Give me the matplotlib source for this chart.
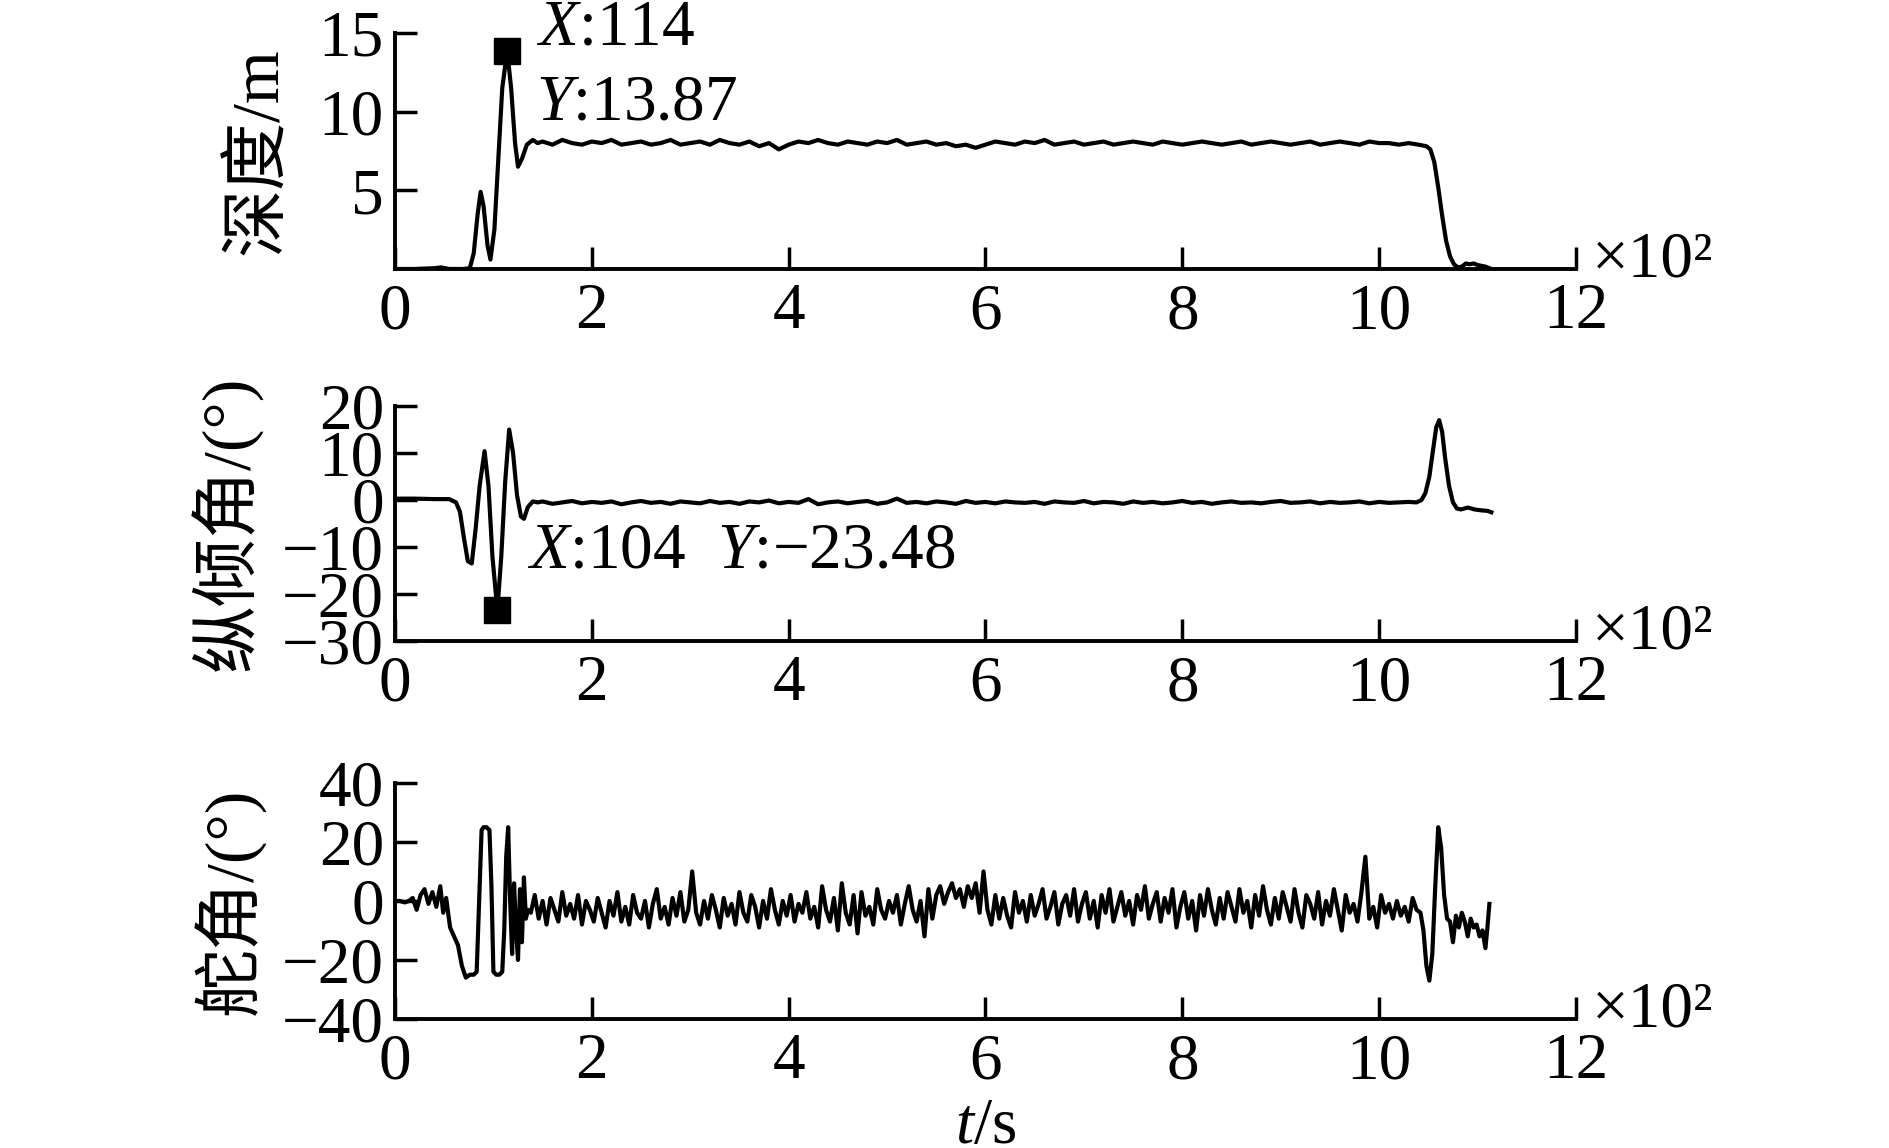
import numpy as np
import matplotlib
matplotlib.use("Agg")
import matplotlib.pyplot as plt

plt.rcParams['font.family'] = ['Liberation Serif', 'Noto Sans CJK SC']
plt.rcParams['mathtext.fontset'] = 'custom'
plt.rcParams['mathtext.rm'] = 'Liberation Serif'
plt.rcParams['mathtext.it'] = 'Liberation Serif:italic'

# x axis (seconds, shown as x10^2)
xticks = [0, 200, 400, 600, 800, 1000, 1200]
xtick_labels = ['0', '2', '4', '6', '8', '10', '12']

# depth (m)
depth_t_head = [0, 20, 40, 47, 55, 70, 76, 80, 84, 87, 90, 94, 97, 101, 105, 109, 114,
                118, 122, 125, 129, 134, 140, 145]
depth_v_head = [0, 0, 0.05, 0.1, 0, 0, 0.05, 1.0, 3.5, 4.9, 4.0, 1.5, 0.6, 2.5, 7.0, 11.5,
                13.87, 11.5, 8.0, 6.5, 7.0, 7.9, 8.2, 8.0]
depth_t_mid = np.arange(150, 1041, 10)
depth_v_mid = [8.1, 7.9, 8.2, 8.0, 7.9, 8.1, 8.0, 8.2, 7.9, 8.0,
               8.1, 7.9, 8.0, 8.2, 7.9, 8.0, 8.1, 7.9, 8.2, 8.0,
               7.9, 8.1, 7.8, 8.0, 7.6, 7.9, 8.1, 8.0, 8.2, 8.0,
               7.9, 8.1, 8.0, 7.9, 8.1, 8.0, 8.2, 7.9, 8.0, 8.1,
               7.9, 8.0, 7.8, 7.9, 7.7, 7.9, 8.1, 8.0, 7.9, 8.1,
               8.0, 8.2, 7.9, 8.0, 8.1, 7.9, 8.0, 8.1, 7.9, 8.0,
               8.1, 8.0, 7.9, 8.1, 8.0, 7.9, 8.0, 8.1, 8.0, 7.9,
               8.0, 8.1, 7.9, 8.0, 8.1, 8.0, 7.9, 8.0, 8.1, 7.9,
               8.0, 8.1, 8.0, 7.9, 8.1, 8.0, 8.0, 7.9, 8.0, 7.9]
depth_t_tail = [1048, 1052, 1056, 1060, 1064, 1068, 1072, 1076, 1080, 1084, 1088, 1092,
                1096, 1100, 1104, 1108, 1112]
depth_v_tail = [7.8, 7.6, 6.8, 5.2, 3.4, 1.8, 0.8, 0.3, 0.1, 0.15, 0.35, 0.3, 0.35, 0.25,
                0.2, 0.15, 0.05]

# pitch angle (deg)
pitch_t_head = [0, 20, 40, 55, 62, 66, 70, 74, 78, 82, 86, 91, 95, 99, 104, 108, 112, 116,
                120, 124, 128, 131, 135, 140, 145]
pitch_v_head = [0.3, 0.3, 0.2, 0.2, -0.5, -2.5, -8, -13, -13.5, -6, 3, 10.4, 3, -12, -23.48,
                -12, 4, 15, 10, 1, -3.5, -4, -1.5, -0.3, -0.5]
pitch_t_mid = np.arange(150, 1031, 10)
pitch_v_mid = [-0.3, -0.8, -0.5, -0.2, -0.7, -0.4, -0.6, -0.3, -0.9, -0.5,
               -0.2, -0.6, -0.4, -0.8, -0.3, -0.5, -0.7, -0.2, -0.6, -0.4,
               -0.8, -0.3, -0.5, -0.1, -0.7, -0.4, -0.6, 0.2, -0.9, -0.5,
               -0.3, -0.7, -0.4, -0.2, -0.8, -0.5, 0.3, -0.6, -0.4, -0.7,
               -0.3, -0.5, -0.8, -0.2, -0.6, -0.4, -0.7, -0.3, -0.5, -0.6,
               -0.4, -0.8, -0.3, -0.5, -0.6, -0.2, -0.7, -0.4, -0.5, -0.8,
               -0.3, -0.6, -0.4, -0.7, -0.5, -0.2, -0.6, -0.4, -0.8, -0.5,
               -0.3, -0.6, -0.5, -0.7, -0.4, -0.2, -0.6, -0.5, -0.3, -0.7,
               -0.4, -0.6, -0.5, -0.3, -0.7, -0.4, -0.6, -0.5, -0.4]
pitch_t_tail = [1038, 1043, 1047, 1051, 1055, 1058, 1061, 1064, 1067, 1071, 1075, 1079,
                1083, 1090, 1097, 1104, 1110, 1114]
pitch_v_tail = [-0.5, 0, 1.5, 5, 11, 15.5, 17, 14.5, 9, 3, -0.5, -1.8, -2, -1.6, -2, -2.2,
                -2.3, -2.6]

# rudder angle (deg)
rudder_t_head = [0, 5, 10, 14, 18, 22, 26, 30, 34, 38, 42, 46, 49, 52, 56, 60, 64, 68, 72,
                 76, 80, 83, 86, 88, 90, 93, 96, 98, 100, 103, 106, 109, 111, 113, 115, 117,
                 119, 121, 123, 125, 127, 129, 131, 133, 135]
rudder_v_head = [0, 0, -0.5, 0, 1, -3, 2, 4, -1, 3, -2, 5, -4, 1, -9, -12, -15, -22, -26,
                 -25, -25, -24, 5, 24, 25, 25, 24, 5, -24, -25, -25, -24, -10, 15, 25, 0,
                 -18, 6, -10, -20, 4, -14, 8, -6, -3]
rudder_t_mid = np.arange(138, 1039, 4)
rudder_v_mid = [-4, 2, -6, 0, -8, 1, -3, -7, 3, -5,
                -1, -6, 2, -8, 0, -3, -7, 1, -4, -9,
                0, -5, 3, -7, -2, -8, 2, -4, -6, 0,
                -9, -1, 4, -6, -2, -8, 1, -5, 3, -7,
                -3, 10, -4, -8, 0, -6, 2, -3, -9, 1,
                -5, -1, -8, 3, -4, -7, 2, -2, -9, 0,
                -6, 4, -3, -8, 0, -5, 2, -7, -1, -4,
                3, -6, -2, -9, 5, -3, -7, 1, -10, 6,
                -4, -8, 2, -11, 3, -5, -2, -8, 4, -3,
                -6, 0, -4, 2, -8, -1, 5, -3, -7, 0,
                -12, 4, -6, 2, 5, -1, 3, 6, 1, 4,
                -2, 5, 1, 6, -4, 10, -3, -8, 2, -6,
                1, -5, -9, 3, -4, 0, -7, 2, -5, -1,
                4, -6, -2, 3, -8, -1, 2, -5, 4, -7,
                -1, 3, -6, 0, -9, 2, -4, 4, -7, -2,
                3, -5, 0, -8, 2, -3, 5, -6, -1, 3,
                -7, 1, -4, 4, -9, -2, 3, -6, 0, -10,
                2, -5, 4, -3, -8, 1, -6, 3, -2, -7,
                4, -4, 0, -9, 2, -5, 5, -3, -8, 1,
                -6, 3, -2, -7, 4, -4, -9, 2, -1, -6,
                3, -8, 0, -5, 4, -3, -10, 2, -4, -1,
                -7, 3, 15, -6, -2, -9, 2, -4, -1, -6,
                0, -5, -2, -7, 1, -3]
rudder_t_tail = [1042, 1045, 1048, 1051, 1054, 1057, 1060, 1063, 1066, 1069, 1072, 1075,
                 1078, 1081, 1084, 1087, 1090, 1093, 1096, 1099, 1102, 1105, 1108, 1110, 1112]
rudder_v_tail = [-4, -10, -22, -27, -18, 5, 25, 18, 2, -6, -7, -14, -5, -9, -4, -7, -12,
                 -6, -9, -8, -12, -10, -16, -9, -1]

depth_t = np.concatenate([depth_t_head, depth_t_mid, depth_t_tail])
depth_v = np.concatenate([depth_v_head, depth_v_mid, depth_v_tail])
pitch_t = np.concatenate([pitch_t_head, pitch_t_mid, pitch_t_tail])
pitch_v = np.concatenate([pitch_v_head, pitch_v_mid, pitch_v_tail])
rudder_t = np.concatenate([rudder_t_head, rudder_t_mid, rudder_t_tail])
rudder_v = np.concatenate([rudder_v_head, rudder_v_mid, rudder_v_tail])

FS = 47
LW = 3.0

fig = plt.figure(figsize=(18.89, 11.48), dpi=100)
ax1 = fig.add_axes([0.2091, 0.7657, 0.6252, 0.2056])
ax2 = fig.add_axes([0.2091, 0.4416, 0.6252, 0.2047])
ax3 = fig.add_axes([0.2091, 0.1124, 0.6252, 0.2056])


def style(ax, ylim, yticks, ylabel, lab_x):
    ax.set_xlim(0, 1200)
    ax.set_ylim(*ylim)
    ax.set_xticks(xticks)
    ax.set_xticklabels(xtick_labels)
    ax.set_yticks(yticks)
    ax.spines['top'].set_visible(False)
    ax.spines['right'].set_visible(False)
    for s in ['left', 'bottom']:
        ax.spines[s].set_linewidth(2.8)
    ax.tick_params(direction='in', length=16, width=2.5, labelsize=FS)
    ax.tick_params(axis='x', pad=10)
    ax.tick_params(axis='y', pad=8)
    ax.text(1.013, -0.03, '×10²', transform=ax.transAxes, fontsize=FS,
            ha='left', va='baseline')
    ax.set_ylabel(ylabel, fontsize=49)
    ax.yaxis.set_label_coords(lab_x, 0.5)


ax1.plot(depth_t, depth_v, color='black', lw=LW)
ax1.plot([114], [13.87], 's', color='black', markersize=19)
ax1.text(143, 14.24, r'$X$:114', fontsize=FS, va='baseline', clip_on=False)
ax1.text(143, 9.47, r'$Y$:13.87', fontsize=FS, va='baseline')
style(ax1, (0, 15), [5, 10, 15], '深度/m', -0.088)

ax2.plot(pitch_t, pitch_v, color='black', lw=LW)
ax2.plot([104], [-23.48], 's', color='black', markersize=19)
ax2.text(134, -14.3, r'$X$:104  $Y$:−23.48', fontsize=FS, va='baseline')
style(ax2, (-30, 20), [-30, -20, -10, 0, 10, 20], '纵倾角/(°)', -0.112)

ax3.plot(rudder_t, rudder_v, color='black', lw=LW)
style(ax3, (-40, 40), [-40, -20, 0, 20, 40], '舵角/(°)', -0.109)
ax3.set_xlabel(r'$t$/s', fontsize=FS, labelpad=4)

fig.savefig('out.png', dpi=100)
